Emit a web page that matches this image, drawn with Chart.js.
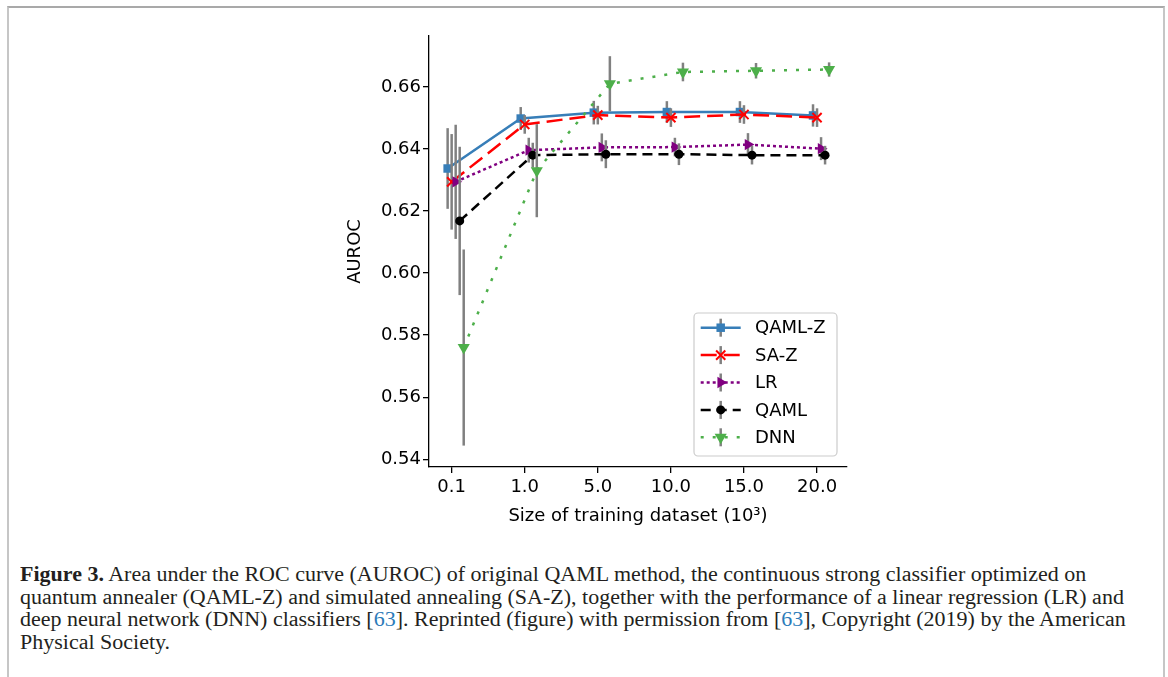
<!DOCTYPE html>
<html>
<head>
<meta charset="utf-8">
<script src="https://cdn.jsdelivr.net/npm/chart.js@4"></script>
<style>
  html, body { margin: 0; padding: 0; background: #fff; }
  body { width: 1168px; height: 677px; position: relative; overflow: hidden; }
  #frame { position: absolute; left: 7px; top: 6px; width: 1154px; height: 680px;
           border-top: 2px solid #a9a9a9; border-left: 2px solid #c6c6c6; border-right: 2px solid #c6c6c6; }
  #wrap { position: absolute; left: 330px; top: 20px; width: 540px; height: 520px; }
  #caption { position: absolute; left: 20px; top: 563px; font-family: "Liberation Serif", serif;
             font-size: 20px; line-height: 22.5px; color: #231f20;
             transform: scaleX(1.1); transform-origin: left top; }
  #caption div { white-space: nowrap; }
  .ref { color: #2b7bb9; }
</style>
</head>
<body>
<div id="frame"></div>
<div id="wrap"><canvas id="chart" width="540" height="520"></canvas></div>
<div id="caption">
  <div><b>Figure 3.</b> Area under the ROC curve (AUROC) of original QAML method, the continuous strong classifier optimized on</div>
  <div>quantum annealer (QAML-Z) and simulated annealing (SA-Z), together with the performance of a linear regression (LR) and</div>
  <div>deep neural network (DNN) classifiers [<span class="ref">63</span>]. Reprinted (figure) with permission from [<span class="ref">63</span>], Copyright (2019) by the American</div>
  <div>Physical Society.</div>
</div>
<script>
// training set sizes (10^3)
const sizeLabels = ['0.1', '1.0', '5.0', '10.0', '15.0', '20.0'];
const yTicks = [0.54, 0.56, 0.58, 0.60, 0.62, 0.64, 0.66];

const qamlZ    = [0.6337, 0.6498, 0.6517, 0.6519, 0.6519, 0.6508];
const qamlZErr = [0.0130, 0.0037, 0.0038, 0.0035, 0.0035, 0.0036];
const saZ      = [0.6294, 0.6479, 0.6509, 0.6501, 0.6511, 0.6501];
const saZErr   = [0.0154, 0.0030, 0.0030, 0.0030, 0.0030, 0.0030];
const lr       = [0.6294, 0.6396, 0.6405, 0.6406, 0.6414, 0.6401];
const lrErr    = [0.0184, 0.0040, 0.0045, 0.0030, 0.0037, 0.0037];
const qaml     = [0.6168, 0.6380, 0.6383, 0.6383, 0.6380, 0.6380];
const qamlErr  = [0.0239, 0.0040, 0.0045, 0.0035, 0.0030, 0.0030];
const dnn      = [0.5760, 0.6330, 0.6610, 0.6648, 0.6652, 0.6656];
const dnnErr   = [0.0316, 0.0150, 0.0089, 0.0030, 0.0025, 0.0023];

const seriesNames = ['QAML-Z', 'SA-Z', 'LR', 'QAML', 'DNN'];
const seriesValues = [qamlZ, saZ, lr, qaml, dnn];
const seriesErrors = [qamlZErr, saZErr, lrErr, qamlErr, dnnErr];
// small horizontal shift so the error bars don't sit on top of each other
const xShift = [-0.055, 0, 0.055, 0.11, 0.165];

const styles = [
    { color: '#377eb8', dash: [],      width: 2.5, point: 'rect',     radius: 6,   rot: 0 },
    { color: '#ff0000', dash: [16, 7], width: 2.5, point: 'crossRot', radius: 6.5, rot: 0 },
    { color: '#800080', dash: [3, 3],  width: 2.5, point: 'triangle', radius: 6.5, rot: 90 },
    { color: '#000000', dash: [10, 6], width: 2.5, point: 'circle',   radius: 4.5, rot: 0 },
    { color: '#4daf4a', dash: [3, 9],  width: 2.5, point: 'triangle', radius: 7,   rot: 180 }
];

const font = { family: '"DejaVu Sans", sans-serif', size: 18 };
const errColor = '#808080';

const datasets = seriesNames.map((name, s) => ({
    label: name,
    data: seriesValues[s].map((v, i) => ({ x: i + xShift[s], y: v })),
    errors: seriesErrors[s],
    borderColor: styles[s].color,
    backgroundColor: styles[s].color,
    borderWidth: styles[s].width,
    borderDash: styles[s].dash,
    pointStyle: styles[s].point,
    pointRadius: styles[s].radius,
    pointRotation: styles[s].rot,
    pointBorderWidth: styles[s].point === 'crossRot' ? 2 : 0,
    pointBorderColor: styles[s].color,
    pointBackgroundColor: styles[s].color,
    tension: 0,
    fill: false,
    order: seriesNames.length - s
}));

// vertical grey error bars, drawn just under each series
const errorBars = {
    id: 'errorBars',
    beforeDatasetDraw(chart, args) {
        const ds = chart.data.datasets[args.index];
        const xs = chart.scales.x, ys = chart.scales.y;
        const ctx = chart.ctx;
        ctx.save();
        ctx.strokeStyle = errColor;
        ctx.lineWidth = 2.5;
        ds.data.forEach((pt, i) => {
            const px = xs.getPixelForValue(pt.x);
            ctx.beginPath();
            ctx.moveTo(px, ys.getPixelForValue(pt.y + ds.errors[i]));
            ctx.lineTo(px, ys.getPixelForValue(pt.y - ds.errors[i]));
            ctx.stroke();
        });
        ctx.restore();
    }
};

// matplotlib-like legend box in the lower right corner
const boxLegend = {
    id: 'boxLegend',
    afterDraw(chart) {
        const ctx = chart.ctx;
        const area = chart.chartArea;
        const w = 143, h = 143;
        const left = area.right - 10 - w, top = area.bottom - 11 - h;
        ctx.save();
        ctx.fillStyle = 'rgba(255,255,255,0.85)';
        ctx.strokeStyle = '#cccccc';
        ctx.lineWidth = 1.2;
        ctx.beginPath();
        ctx.roundRect(left, top, w, h, 4);
        ctx.fill();
        ctx.stroke();

        chart.data.datasets.forEach((ds, k) => {
            const y = top + 14.7 + k * 27.4;
            const x0 = left + 6.7, x1 = left + 46.7, xm = left + 26.7;
            ctx.strokeStyle = ds.borderColor;
            ctx.lineWidth = ds.borderWidth;
            ctx.setLineDash(ds.borderDash);
            ctx.beginPath();
            ctx.moveTo(x0, y);
            ctx.lineTo(x1, y);
            ctx.stroke();
            ctx.setLineDash([]);
            ctx.strokeStyle = errColor;
            ctx.lineWidth = 2.5;
            ctx.beginPath();
            ctx.moveTo(xm, y - 9);
            ctx.lineTo(xm, y + 9);
            ctx.stroke();
            ctx.fillStyle = ds.pointBackgroundColor;
            ctx.strokeStyle = ds.pointBorderColor;
            ctx.lineWidth = ds.pointBorderWidth;
            Chart.helpers.drawPoint(ctx, {
                pointStyle: ds.pointStyle,
                radius: ds.pointRadius,
                rotation: ds.pointRotation,
                borderWidth: ds.pointBorderWidth
            }, xm, y);
            ctx.fillStyle = '#000';
            ctx.font = '18px "DejaVu Sans", sans-serif';
            ctx.textBaseline = 'middle';
            ctx.textAlign = 'left';
            ctx.fillText(ds.label, left + 61, y + 1);
        });
        ctx.restore();
    }
};

new Chart(document.getElementById('chart'), {
    type: 'line',
    data: { datasets },
    options: {
        responsive: false,
        animation: false,
        layout: { padding: { left: 0, right: 23, top: 16, bottom: 0 } },
        plugins: { legend: { display: false }, tooltip: { enabled: false } },
        scales: {
            x: {
                type: 'linear',
                min: -0.31,
                max: 5.41,
                afterBuildTicks: (scale) => { scale.ticks = sizeLabels.map((_, i) => ({ value: i })); },
                afterFit: (scale) => { scale.height = 73; },
                ticks: {
                    color: '#000',
                    font: font,
                    padding: 4,
                    maxRotation: 0,
                    callback: (v) => sizeLabels[v]
                },
                grid: { drawOnChartArea: false, drawTicks: true, tickLength: 6, color: '#000', lineWidth: 1.3 },
                border: { display: true, color: '#000', width: 1.3 },
                title: {
                    display: true,
                    text: 'Size of training dataset (10³)',
                    color: '#000',
                    font: font,
                    padding: { top: 0, bottom: 12.5 }
                }
            },
            y: {
                min: 0.5375,
                max: 0.6764,
                afterBuildTicks: (scale) => { scale.ticks = yTicks.map(v => ({ value: v })); },
                afterFit: (scale) => { scale.width = 99; },
                ticks: {
                    color: '#000',
                    font: font,
                    padding: 2,
                    callback: (v) => v.toFixed(2)
                },
                grid: { drawOnChartArea: false, drawTicks: true, tickLength: 6, color: '#000', lineWidth: 1.3 },
                border: { display: true, color: '#000', width: 1.3 },
                title: {
                    display: true,
                    text: 'AUROC',
                    color: '#000',
                    font: font,
                    padding: { top: 14.7, bottom: 0 }
                }
            }
        }
    },
    plugins: [errorBars, boxLegend]
});
</script>
</body>
</html>
